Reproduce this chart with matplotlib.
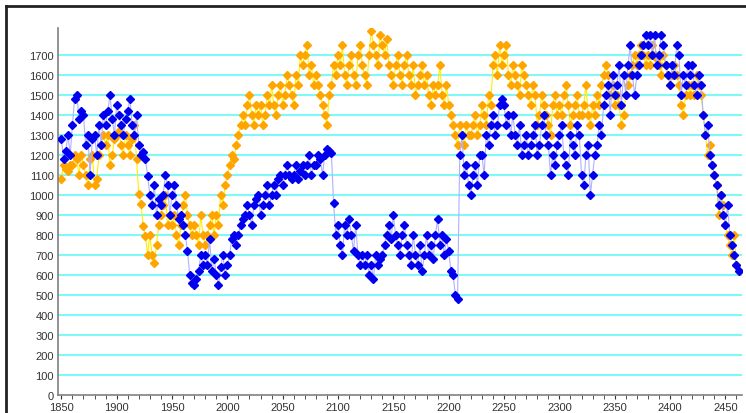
import numpy as np
from matplotlib import pyplot as plt
from matplotlib.lines import Line2D

# values, one point every 2 years starting at 1850
blue = [
    1280, 1180, 1220, 1300, 1200,
    1350, 1480, 1500, 1380, 1420,
    1400, 1250, 1300, 1100, 1280,
    1300, 1200, 1350, 1250, 1400,
    1350, 1420, 1500, 1380, 1300,
    1450, 1400, 1350, 1300, 1380,
    1420, 1480, 1350, 1300, 1400,
    1250, 1200, 1215, 1180, 1095,
    1000, 950, 1050, 900, 980,
    950, 1000, 1100, 1050, 900,
    1000, 1050, 950, 880, 900,
    850, 800, 720, 600, 560,
    550, 580, 620, 700, 650,
    700, 650, 780, 620, 680,
    600, 550, 640, 700, 600,
    650, 700, 780, 800, 750,
    800, 850, 880, 900, 950,
    900, 850, 950, 980, 1000,
    900, 950, 1000, 1050, 950,
    1000, 1050, 1000, 1080, 1100,
    1050, 1100, 1150, 1100, 1080,
    1100, 1150, 1080, 1120, 1150,
    1100, 1150, 1200, 1100, 1150,
    1150, 1200, 1180, 1100, 1200,
    1230, 1220, 1210, 960, 800,
    850, 750, 700, 850, 800,
    880, 800, 720, 850, 700,
    650, 700, 650, 700, 600,
    650, 580, 700, 650, 680,
    700, 750, 800, 850, 780,
    900, 800, 750, 700, 800,
    850, 750, 700, 650, 800,
    700, 650, 750, 620, 700,
    800, 700, 750, 680, 800,
    880, 750, 800, 700, 780,
    720, 620, 600, 500, 480,
    1200, 1300, 1100, 1150, 1050,
    1000, 1100, 1150, 1050, 1200,
    1200, 1100, 1300, 1250, 1350,
    1400, 1300, 1350, 1450, 1480,
    1450, 1350, 1400, 1300, 1400,
    1300, 1250, 1350, 1200, 1250,
    1300, 1200, 1250, 1300, 1350,
    1200, 1250, 1350, 1400, 1300,
    1250, 1100, 1200, 1150, 1250,
    1300, 1350, 1200, 1150, 1100,
    1300, 1250, 1200, 1350, 1300,
    1100, 1050, 1200, 1250, 1000,
    1100, 1200, 1250, 1350, 1300,
    1450, 1500, 1550, 1400, 1600,
    1500, 1550, 1650, 1450, 1600,
    1500, 1650, 1750, 1600, 1500,
    1600, 1650, 1700, 1750, 1800,
    1750, 1800, 1700, 1800, 1650,
    1700, 1800, 1750, 1650, 1600,
    1550, 1650, 1600, 1750, 1700,
    1500, 1600, 1550, 1650, 1600,
    1650, 1550, 1500, 1600, 1550,
    1400, 1300, 1350, 1200, 1150,
    1100, 1050, 950, 1000, 900,
    850, 950, 800, 750, 700,
    650, 620,
]

orange = [
    1080, 1150, 1130, 1120, 1150,
    1150, 1200, 1180, 1100, 1200,
    1150, 1100, 1050, 1180, 1200,
    1050, 1080, 1200, 1250, 1300,
    1250, 1300, 1150, 1200, 1280,
    1300, 1320, 1250, 1200, 1300,
    1250, 1200, 1280, 1350, 1180,
    1005, 955, 845, 795, 700,
    800, 700, 660, 750, 850,
    900, 950, 1000, 850, 900,
    850, 900, 800, 750, 850,
    950, 1000, 900, 850, 800,
    850, 800, 750, 900, 800,
    750, 800, 850, 900, 800,
    900, 850, 1000, 950, 1050,
    1100, 1150, 1200, 1180, 1250,
    1300, 1350, 1400, 1350, 1450,
    1500, 1400, 1350, 1450, 1400,
    1450, 1350, 1400, 1500, 1450,
    1550, 1450, 1400, 1500, 1550,
    1450, 1500, 1600, 1550, 1500,
    1450, 1600, 1550, 1700, 1650,
    1700, 1750, 1600, 1650, 1550,
    1600, 1550, 1500, 1450, 1400,
    1350, 1500, 1550, 1650, 1600,
    1700, 1650, 1750, 1600, 1550,
    1650, 1700, 1600, 1550, 1700,
    1750, 1650, 1600, 1550, 1700,
    1820, 1750, 1700, 1650, 1800,
    1750, 1700, 1780, 1650, 1600,
    1550, 1650, 1700, 1600, 1550,
    1650, 1700, 1600, 1550, 1650,
    1500, 1550, 1600, 1650, 1550,
    1600, 1500, 1450, 1550, 1500,
    1550, 1650, 1500, 1450, 1550,
    1450, 1400, 1350, 1300, 1250,
    1350, 1300, 1250, 1350, 1300,
    1300, 1350, 1400, 1300, 1350,
    1450, 1400, 1350, 1500, 1450,
    1650, 1700, 1600, 1750, 1650,
    1700, 1750, 1600, 1550, 1650,
    1600, 1550, 1500, 1650, 1600,
    1550, 1500, 1450, 1550, 1500,
    1350, 1400, 1500, 1450, 1400,
    1350, 1300, 1450, 1500, 1400,
    1450, 1400, 1500, 1550, 1450,
    1350, 1400, 1450, 1500, 1400,
    1400, 1450, 1550, 1400, 1350,
    1450, 1400, 1500, 1450, 1550,
    1600, 1650, 1600, 1500, 1550,
    1450, 1500, 1450, 1350, 1400,
    1500, 1550, 1600, 1650, 1700,
    1650, 1700, 1750, 1700, 1650,
    1700, 1650, 1750, 1700, 1680,
    1650, 1600, 1700, 1650, 1600,
    1550, 1600, 1650, 1600, 1550,
    1450, 1400, 1500, 1550, 1500,
    1550, 1500, 1600, 1550, 1500,
    1400, 1300, 1200, 1250, 1150,
    1100, 1050, 900, 1000, 950,
    850, 800, 750, 700, 800,
    650, 620,
]

start_year = 1850
step = 2
x_blue = start_year + step * np.arange(len(blue))
x_orange = start_year + step * np.arange(len(orange))

yticks = list(range(0, 1800, 100))
xticks = list(range(1850, 2451, 50))

plt.rcParams['font.family'] = ['Liberation Sans', 'DejaVu Sans']

fig = plt.figure(figsize=(7.46, 4.14), dpi=100)
ax = fig.add_axes([58/746, 18/414, 684/746, 367/414])

for y in yticks[1:]:
    ax.axhline(y, color='#80f8f8', lw=1.5, zorder=0)

ax.plot(x_orange, orange, color='#ffee00', lw=0.8, marker='D', ms=3.8,
        mfc='#ffa500', mec='#ffa500', zorder=2)
ax.plot(x_blue, blue, color='#b0b0ff', lw=0.8, marker='D', ms=3.8,
        mfc='#0000ee', mec='#0000ee', zorder=3)

ax.set_xlim(1847, 2465)
ax.set_ylim(0, 1835)
ax.set_yticks(yticks)
ax.set_xticks(xticks)
ax.set_xticks(list(range(1850, 2461, 10)), minor=True)
ax.tick_params(axis='both', labelsize=8, colors='#333333', length=3, pad=2)
ax.tick_params(axis='x', which='minor', length=3, color='#333333')
ax.tick_params(axis='y', length=0, pad=3)

for side in ('top', 'right'):
    ax.spines[side].set_visible(False)
for side in ('left', 'bottom'):
    ax.spines[side].set_color('#808080')
    ax.spines[side].set_linewidth(1.2)

# window frame
fig.add_artist(Line2D([6/746, 6/746], [0, 1 - 7/414], color='#222222', lw=2,
                      transform=fig.transFigure))
fig.add_artist(Line2D([6/746, 1], [1 - 7/414, 1 - 7/414], color='#222222', lw=2,
                      transform=fig.transFigure))

fig.savefig('out.png', dpi=100)
